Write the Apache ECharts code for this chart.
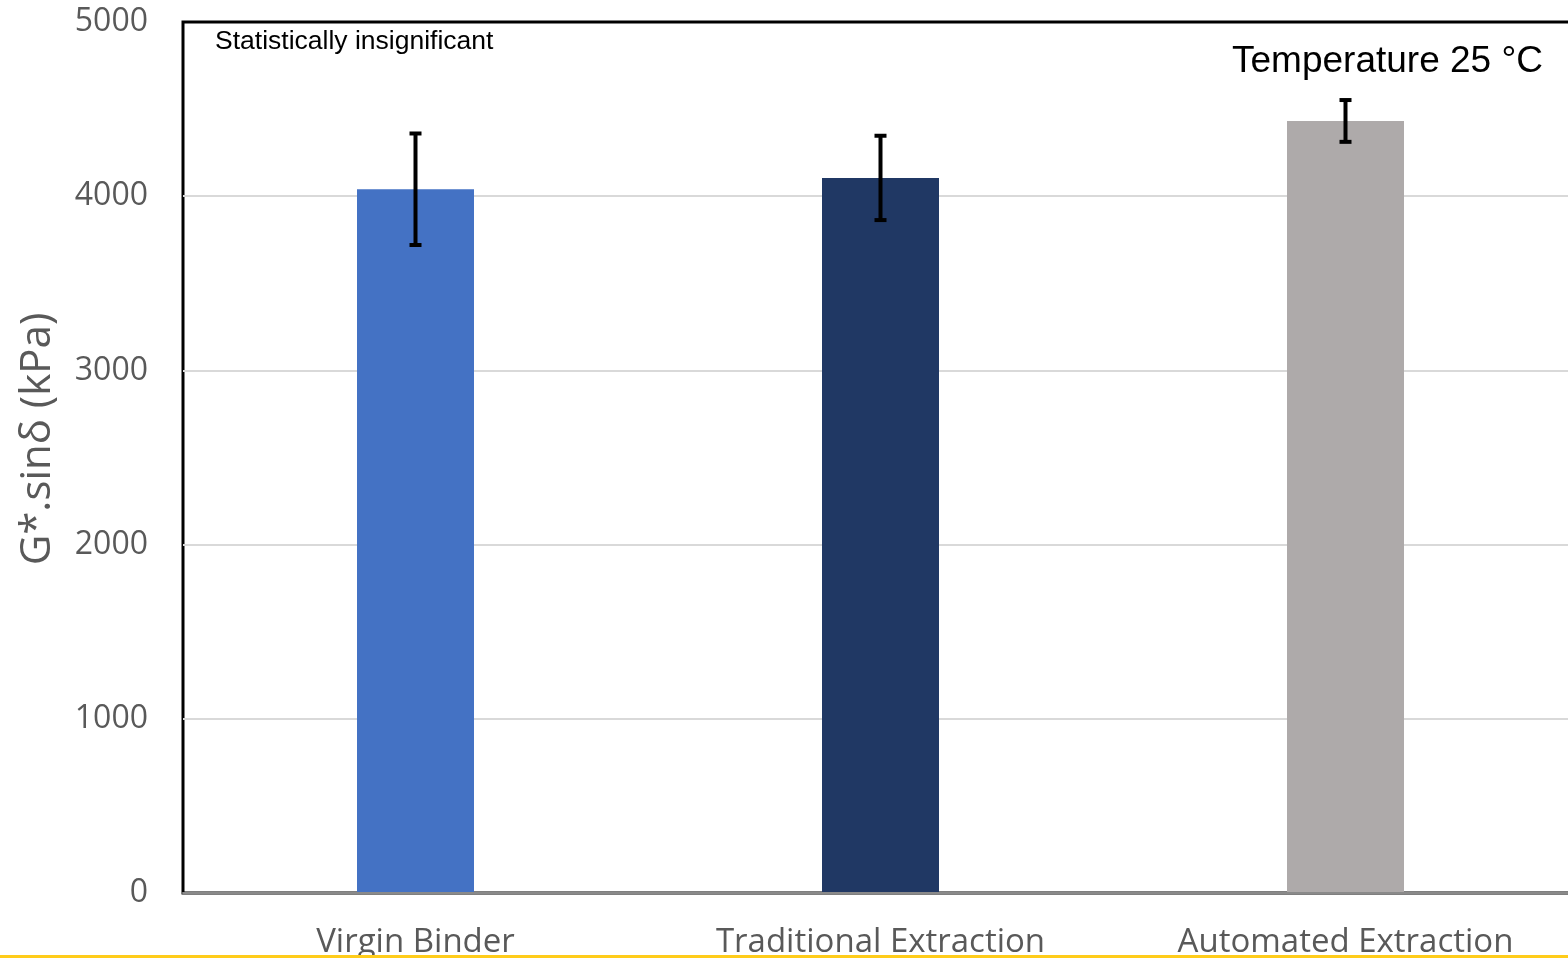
<!DOCTYPE html>
<html>
<head>
<meta charset="utf-8">
<script src="https://cdn.jsdelivr.net/npm/echarts@6/dist/echarts.min.js"></script>
<style>
  html, body { margin: 0; padding: 0; background: #fff; }
  #chart { width: 1568px; height: 958px; }
</style>
</head>
<body>
<div id="chart"></div>
<script>
// Binder stiffness at 25 °C for three binder sources
const categories = ['Virgin Binder', 'Traditional Extraction', 'Automated Extraction'];
const meanValues = [4040, 4105, 4432];   // G*.sinδ, kPa
const errorValues = [320, 242, 120];     // ± standard deviation, kPa
const barColors = ['#4472C4', '#203864', '#AEAAAA'];
const yMin = 0, yMax = 5000, yStep = 1000;

const chart = echarts.init(document.getElementById('chart'));

const barData = meanValues.map((v, i) => ({ value: v, itemStyle: { color: barColors[i] } }));
const errData = meanValues.map((v, i) => [i, v, errorValues[i]]);

function renderErrorBar(params, api) {
  const idx = api.value(0);
  const mean = api.value(1);
  const err = api.value(2);
  const top = api.coord([idx, mean + err]);
  const bot = api.coord([idx, mean - err]);
  const half = 6;
  const style = { stroke: '#000', lineWidth: 4 };
  return {
    type: 'group',
    children: [
      { type: 'line', shape: { x1: top[0], y1: top[1], x2: bot[0], y2: bot[1] }, style },
      { type: 'line', shape: { x1: top[0] - half, y1: top[1], x2: top[0] + half, y2: top[1] }, style },
      { type: 'line', shape: { x1: bot[0] - half, y1: bot[1], x2: bot[0] + half, y2: bot[1] }, style }
    ]
  };
}

chart.setOption({
  animation: false,
  backgroundColor: '#fff',
  grid: {
    left: 183, width: 1395, top: 22, height: 871,
    outerBoundsMode: 'none',
    containLabel: false,
    show: true, borderColor: '#000', borderWidth: 3, backgroundColor: 'transparent'
  },
  xAxis: {
    type: 'category',
    data: categories,
    axisLine: { show: true, lineStyle: { color: '#8a8a8a', width: 2 } },
    axisTick: { show: false },
    axisLabel: {
      color: '#595959', fontFamily: 'Open Sans', fontSize: 33, margin: 33
    },
    z: 10
  },
  yAxis: {
    type: 'value',
    min: yMin, max: yMax, interval: yStep,
    axisLine: { show: false },
    axisTick: { show: false },
    splitLine: {
      showMinLine: false, showMaxLine: false,
      lineStyle: { color: '#d9d9d9', width: 2 }
    },
    axisLabel: {
      color: '#595959', fontFamily: 'Open Sans', fontSize: 32, margin: 35,
      formatter: v => String(v)
    }
  },
  series: [
    {
      type: 'bar',
      data: barData,
      barWidth: 117,
      z: 2
    },
    {
      type: 'custom',
      data: errData,
      renderItem: renderErrorBar,
      encode: { x: 0, y: 1 },
      z: 5
    }
  ],
  graphic: [
    {
      type: 'text',
      x: 38, y: 439,
      rotation: Math.PI / 2,
      style: {
        text: 'G*.sinδ (kPa)',
        fill: '#595959',
        font: '42px "Open Sans"',
        textAlign: 'center',
        textVerticalAlign: 'middle'
      }
    },
    {
      type: 'text',
      x: 215, y: 42,
      style: {
        text: 'Statistically insignificant',
        fill: '#000',
        font: '26.5px "Liberation Sans"',
        textAlign: 'left',
        textVerticalAlign: 'middle'
      }
    },
    {
      type: 'text',
      x: 1232, y: 62,
      style: {
        text: 'Temperature 25 °C',
        fill: '#000',
        font: '37px "Liberation Sans"',
        textAlign: 'left',
        textVerticalAlign: 'middle'
      }
    },
    {
      type: 'line',
      shape: { x1: 0, y1: 956.5, x2: 1568, y2: 956.5 },
      style: { stroke: '#FFCC1A', lineWidth: 3 },
      z: 100
    }
  ]
});
</script>
</body>
</html>
